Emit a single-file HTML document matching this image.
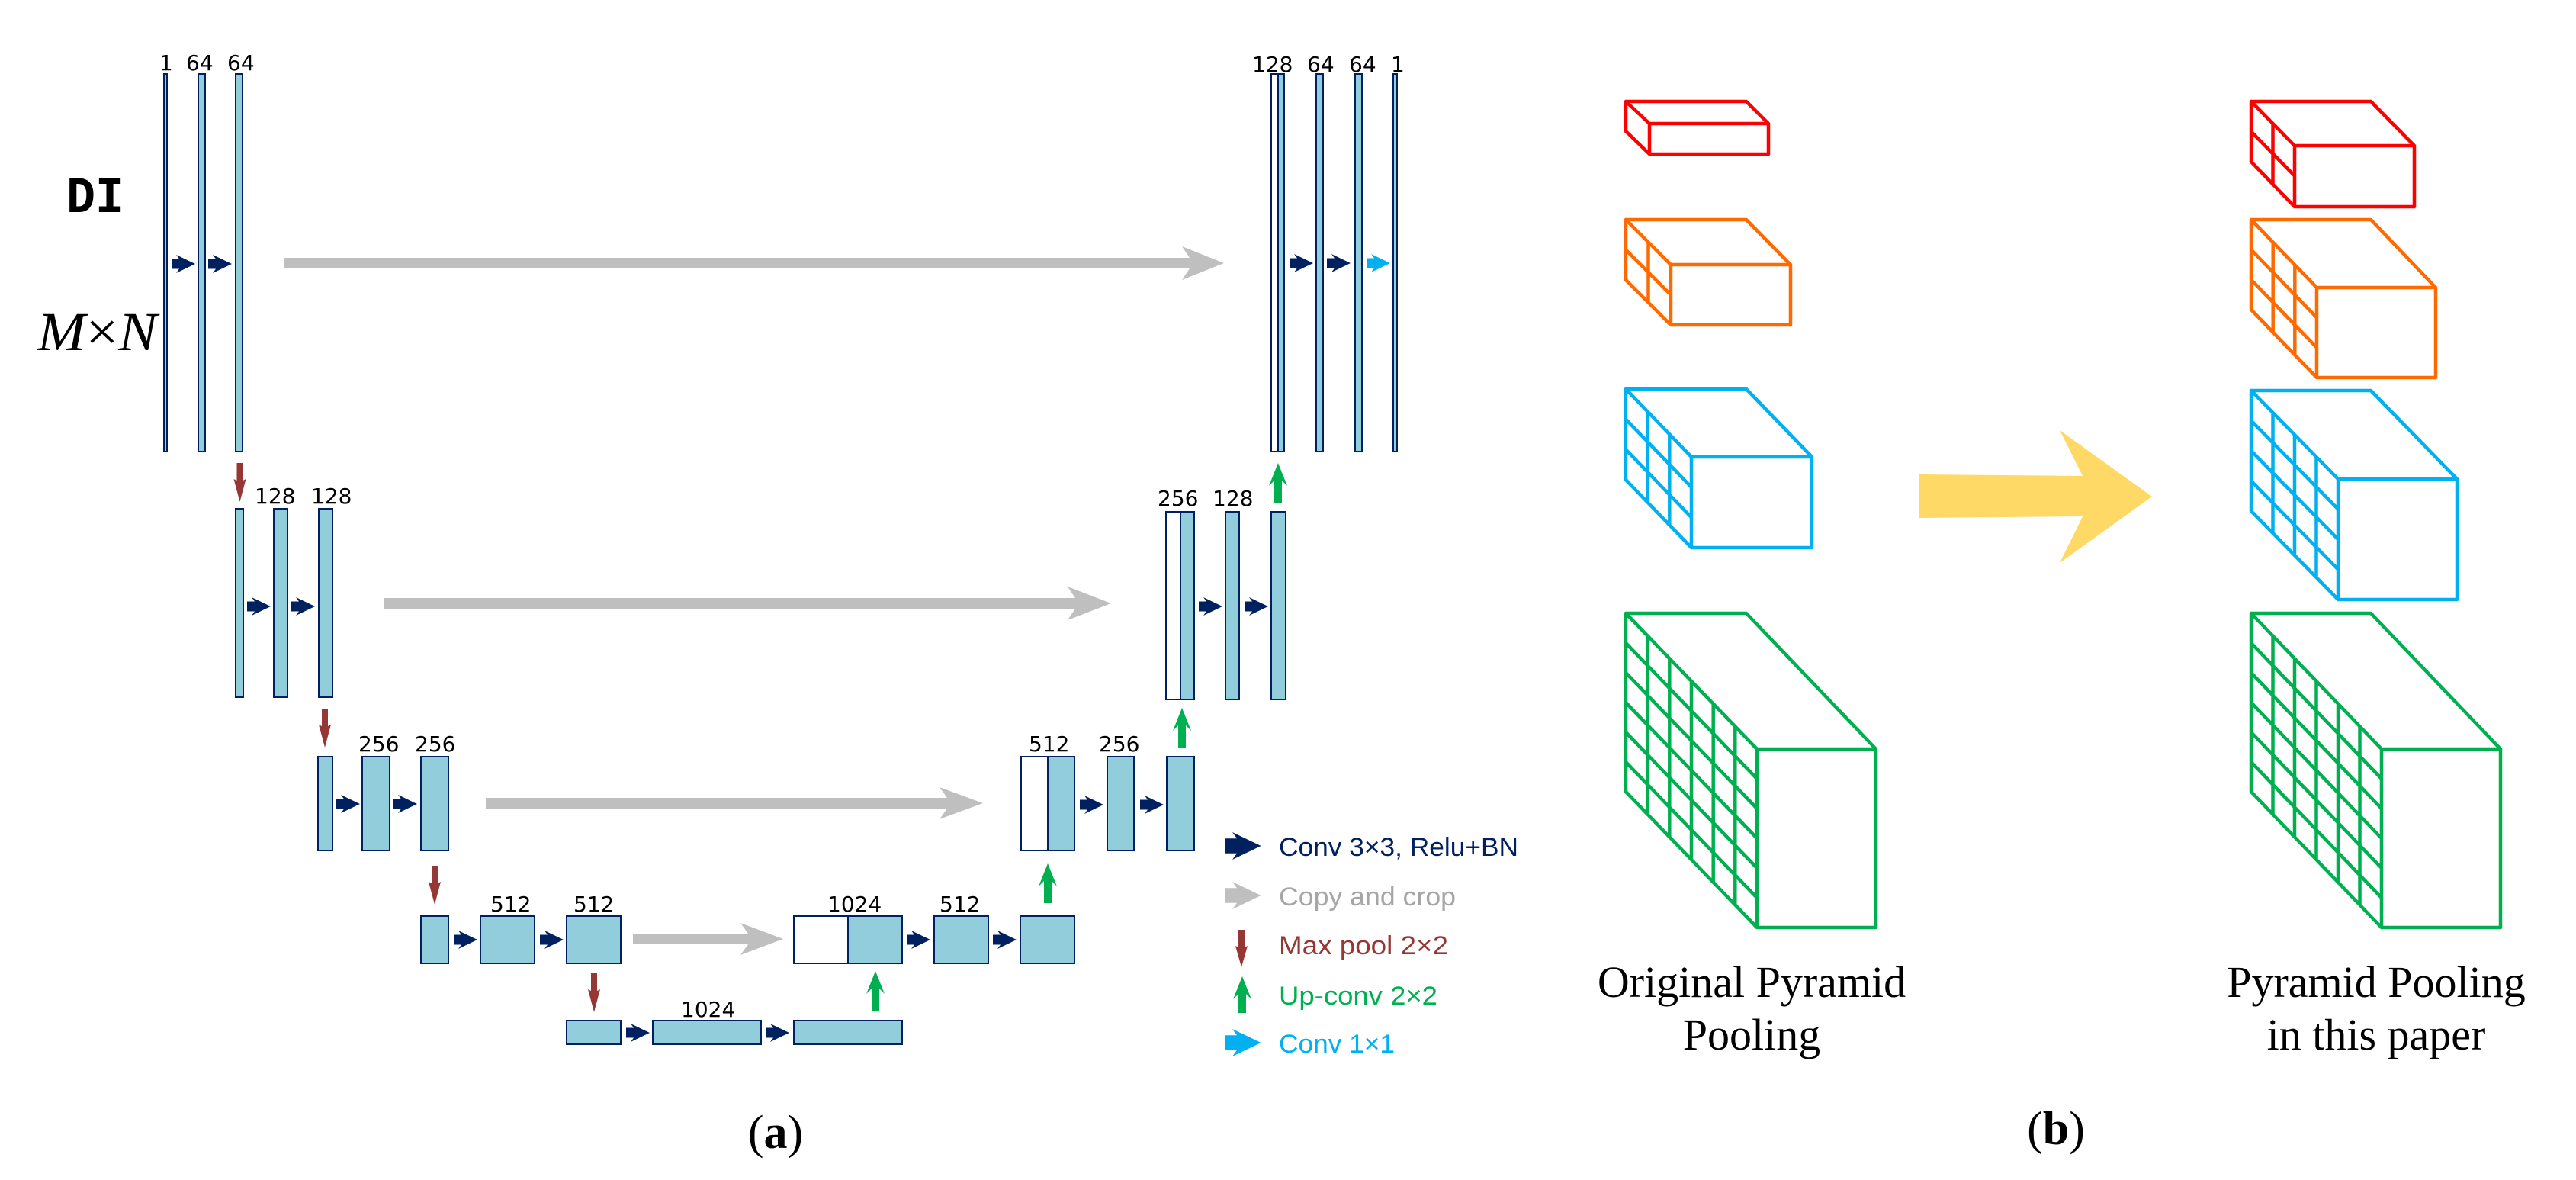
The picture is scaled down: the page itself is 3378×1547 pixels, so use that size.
<!DOCTYPE html>
<html><head><meta charset="utf-8"><style>html,body{margin:0;padding:0;background:#fff}svg{display:block}</style></head>
<body>
<svg xmlns="http://www.w3.org/2000/svg" width="3378" height="1547" viewBox="0 0 3378 1547">
<defs>
<polygon id="ca" points="0,-6.5 10,-6.5 6,-12 31,0 6,12 10,6.5 0,6.5"/>
</defs>
<g fill="#92cddc" stroke="#002060" stroke-width="2">
<rect x="215" y="97" width="4" height="495"/>
<rect x="260" y="97" width="9" height="495"/>
<rect x="309" y="97" width="9" height="495"/>
<rect x="1667" y="97" width="9" height="495" fill="#fff"/>
<rect x="1676" y="97" width="8" height="495"/>
<rect x="1726" y="97" width="9" height="495"/>
<rect x="1777" y="97" width="9" height="495"/>
<rect x="1827" y="97" width="5" height="495"/>
<rect x="309" y="667" width="10" height="247"/>
<rect x="359" y="667" width="18" height="247"/>
<rect x="418" y="667" width="18" height="247"/>
<rect x="1529" y="671" width="19" height="246" fill="#fff"/>
<rect x="1548" y="671" width="18" height="246"/>
<rect x="1607" y="671" width="18" height="246"/>
<rect x="1667" y="671" width="19" height="246"/>
<rect x="417" y="992" width="19" height="123"/>
<rect x="475" y="992" width="36" height="123"/>
<rect x="552" y="992" width="36" height="123"/>
<rect x="1339" y="992" width="35" height="123" fill="#fff"/>
<rect x="1374" y="992" width="35" height="123"/>
<rect x="1452" y="992" width="35" height="123"/>
<rect x="1530" y="992" width="36" height="123"/>
<rect x="552" y="1201" width="36" height="62"/>
<rect x="630" y="1201" width="71" height="62"/>
<rect x="743" y="1201" width="71" height="62"/>
<rect x="1041" y="1201" width="71" height="62" fill="#fff"/>
<rect x="1112" y="1201" width="71" height="62"/>
<rect x="1225" y="1201" width="71" height="62"/>
<rect x="1338" y="1201" width="71" height="62"/>
<rect x="743" y="1338" width="71" height="31"/>
<rect x="856" y="1338" width="142" height="31"/>
<rect x="1041" y="1338" width="142" height="31"/>
</g>
<g fill="#002060">
<use href="#ca" x="225" y="346"/><use href="#ca" x="273" y="346"/>
<use href="#ca" x="1691" y="345"/><use href="#ca" x="1740" y="345"/>
<use href="#ca" x="324" y="795"/><use href="#ca" x="382" y="795"/>
<use href="#ca" x="1572" y="795"/><use href="#ca" x="1632" y="795"/>
<use href="#ca" x="441" y="1054"/><use href="#ca" x="516" y="1054"/>
<use href="#ca" x="1416" y="1055"/><use href="#ca" x="1495" y="1055"/>
<use href="#ca" x="595" y="1232"/><use href="#ca" x="708" y="1232"/>
<use href="#ca" x="1189" y="1232"/><use href="#ca" x="1302" y="1232"/>
<use href="#ca" x="821" y="1354"/><use href="#ca" x="1004" y="1354"/>
<polygon transform="translate(1607,1109) scale(1.5)" points="0,-6.5 10,-6.5 6,-12 31,0 6,12 10,6.5 0,6.5"/>
</g>
<polygon fill="#00b0f0" transform="translate(1792,345)" points="0,-6.5 10,-6.5 6,-12 31,0 6,12 10,6.5 0,6.5"/>
<polygon fill="#00b0f0" transform="translate(1607,1367) scale(1.5)" points="0,-6.5 10,-6.5 6,-12 31,0 6,12 10,6.5 0,6.5"/>
<polygon fill="#bfbfbf" transform="translate(1607,1174) scale(1.5)" points="0,-6.5 10,-6.5 6,-12 31,0 6,12 10,6.5 0,6.5"/>
<g fill="#bfbfbf">
<polygon points="373,338 1560,338 1550,323 1605,345 1550,367 1560,352 373,352"/>
<polygon points="504,784 1410,784 1400,769 1457,791 1400,813 1410,798 504,798"/>
<polygon points="637,1046 1242,1046 1232,1032 1289,1053 1232,1074 1242,1060 637,1060"/>
<polygon points="830,1224 981,1224 971,1210 1027,1231 971,1252 981,1238 830,1238"/>
</g>
<g fill="#953735">
<polygon points="310.5,607 318.5,607 318.5,630 322.5,628 314.5,658 306.5,628 310.5,630"/>
<polygon points="422,929 430,929 430,952 434,950 426,980 418,950 422,952"/>
<polygon points="566,1135 574,1135 574,1158 578,1156 570,1186 562,1156 566,1158"/>
<polygon points="775,1276 783,1276 783,1299 787,1297 779,1327 771,1297 775,1299"/>
<polygon points="1624,1219 1632,1219 1632,1242 1636,1240 1628,1268 1620,1240 1624,1242"/>
</g>
<g fill="#00b050">
<polygon points="1676,607 1688,637 1681,630 1681,660 1671,660 1671,630 1664,637"/>
<polygon points="1550,928 1562,958 1555,951 1555,980 1545,980 1545,951 1538,958"/>
<polygon points="1374,1132 1386,1162 1379,1155 1379,1184 1369,1184 1369,1155 1362,1162"/>
<polygon points="1148,1273 1160,1303 1153,1296 1153,1326 1143,1326 1143,1296 1136,1303"/>
<polygon points="1629,1280 1641,1310 1634,1303 1634,1328 1624,1328 1624,1303 1617,1310"/>
</g>
<g font-family="DejaVu Sans, Liberation Sans, sans-serif" font-size="28" fill="#000">
<text x="209" y="92">1</text><text x="244" y="92">64</text><text x="298" y="92">64</text>
<text x="1642" y="94">128</text><text x="1714" y="94">64</text><text x="1769" y="94">64</text><text x="1824" y="94">1</text>
<text x="334" y="660">128</text><text x="408" y="660">128</text>
<text x="1518" y="663">256</text><text x="1590" y="663">128</text>
<text x="470" y="985">256</text><text x="544" y="985">256</text>
<text x="1349" y="985">512</text><text x="1441" y="985">256</text>
<text x="643" y="1195">512</text><text x="752" y="1195">512</text>
<text x="1085" y="1195">1024</text><text x="1232" y="1195">512</text>
<text x="893" y="1333">1024</text>
</g>
<text x="87" y="278" font-family="Liberation Mono, monospace" font-size="68" font-weight="bold" textLength="76" lengthAdjust="spacingAndGlyphs">DI</text>
<text x="49" y="459" font-family="Liberation Serif, serif" font-size="72" textLength="157" lengthAdjust="spacingAndGlyphs"><tspan font-style="italic">M</tspan>×<tspan font-style="italic">N</tspan></text>
<g font-family="Liberation Sans, sans-serif" font-size="34">
<text x="1677" y="1122" fill="#002060" textLength="314" lengthAdjust="spacingAndGlyphs">Conv 3×3, Relu+BN</text>
<text x="1677" y="1187" fill="#a6a6a6" textLength="232" lengthAdjust="spacingAndGlyphs">Copy and crop</text>
<text x="1677" y="1251" fill="#953735" textLength="222" lengthAdjust="spacingAndGlyphs">Max pool 2×2</text>
<text x="1677" y="1317" fill="#00b050" textLength="208" lengthAdjust="spacingAndGlyphs">Up-conv 2×2</text>
<text x="1677" y="1380" fill="#00b0f0" textLength="152" lengthAdjust="spacingAndGlyphs">Conv 1×1</text>
</g>
<text x="1017" y="1505" text-anchor="middle" font-family="Liberation Serif, serif" font-size="62">(<tspan font-weight="bold">a</tspan>)</text>
<text x="2696" y="1500" text-anchor="middle" font-family="Liberation Serif, serif" font-size="62">(<tspan font-weight="bold">b</tspan>)</text>
<polygon fill="#ffd966" points="2517,622 2731,624 2701,564 2822,651 2701,738 2731,677 2517,679"/>
<g font-family="Liberation Serif, serif" font-size="58" text-anchor="middle" fill="#000">
<text x="2297" y="1307">Original Pyramid</text>
<text x="2297" y="1376">Pooling</text>
<text x="3116" y="1307">Pyramid Pooling</text>
<text x="3116" y="1376">in this paper</text>
</g>
<g fill="none" stroke-width="4.5" stroke-linejoin="round">
<g stroke="#ff0000">
<path d="M2132,133 L2290,133 L2319,162 L2163,162 Z M2163,162 L2319,162 L2319,202 L2163,202 Z M2132,133 L2132,172 L2163,202"/>
<path d="M2952,133 L3109,133 L3166,191 L3009,191 Z M3009,191 L3166,191 L3166,271 L3009,271 Z M2952,133 L2952,212 L3009,271 M2980.5,162 L2980.5,241.5 M2952,172.5 L3009,230.5"/>
</g>
<g stroke="#ff6a00">
<path d="M2132,288 L2290,288 L2348,347 L2191,347 Z M2191,347 L2348,347 L2348,426 L2191,426 Z M2132,288 L2132,367 L2191,426 M2161.5,317.5 L2161.5,396.5 M2132,327.5 L2191,386.5"/>
<path d="M2952,288 L3109,288 L3194,377 L3038,377 Z M3038,377 L3194,377 L3194,495 L3038,495 Z M2952,288 L2952,406 L3038,495 M2980.7,317.7 L2980.7,435.7 M3009.3,347.3 L3009.3,465.3 M2952,327.3 L3038,416.3 M2952,366.7 L3038,455.7"/>
</g>
<g stroke="#00b0f0">
<path d="M2132,510 L2290,510 L2376,599 L2218,599 Z M2218,599 L2376,599 L2376,718 L2218,718 Z M2132,510 L2132,629 L2218,718 M2160.7,539.7 L2160.7,658.7 M2189.3,569.3 L2189.3,688.3 M2132,549.7 L2218,638.7 M2132,589.3 L2218,678.3"/>
<path d="M2952,512 L3109,512 L3222,628 L3066,628 Z M3066,628 L3222,628 L3222,786 L3066,786 Z M2952,512 L2952,670 L3066,786 M2980.5,541 L2980.5,699 M3009,570 L3009,728 M3037.5,599 L3037.5,757 M2952,551.5 L3066,667.5 M2952,591 L3066,707 M2952,630.5 L3066,746.5"/>
</g>
<g stroke="#00b050">
<path d="M2132,804 L2290,804 L2460,982 L2304,982 Z M2304,982 L2460,982 L2460,1216 L2304,1216 Z M2132,804 L2132,1038 L2304,1216 M2160.7,833.7 L2160.7,1067.7 M2189.3,863.3 L2189.3,1097.3 M2218,893 L2218,1127 M2246.7,922.7 L2246.7,1156.7 M2275.3,952.3 L2275.3,1186.3 M2132,843 L2304,1021 M2132,882 L2304,1060 M2132,921 L2304,1099 M2132,960 L2304,1138 M2132,999 L2304,1177"/>
<path d="M2952,804 L3109,804 L3279,982 L3123,982 Z M3123,982 L3279,982 L3279,1216 L3123,1216 Z M2952,804 L2952,1038 L3123,1216 M2980.5,833.7 L2980.5,1067.7 M3009,863.3 L3009,1097.3 M3037.5,893 L3037.5,1127 M3066,922.7 L3066,1156.7 M3094.5,952.3 L3094.5,1186.3 M2952,843 L3123,1021 M2952,882 L3123,1060 M2952,921 L3123,1099 M2952,960 L3123,1138 M2952,999 L3123,1177"/>
</g>
</g>
</svg>
</body></html>
